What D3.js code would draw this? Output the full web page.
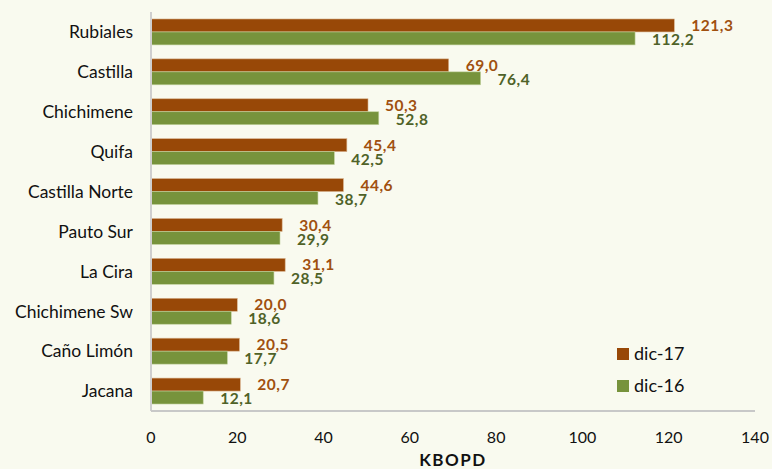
<!DOCTYPE html>
<html>
<head>
<meta charset="utf-8">
<script src="https://cdn.jsdelivr.net/npm/d3@7"></script>
<style>
  html, body { margin: 0; padding: 0; background: #f9faef; }
  svg { display: block; font-family: "Lato", "Open Sans", sans-serif; }
</style>
</head>
<body>
<main></main>
<script>
// campos y produccion (KBOPD)
const fields = ["Rubiales", "Castilla", "Chichimene", "Quifa", "Castilla Norte",
  "Pauto Sur", "La Cira", "Chichimene Sw", "Caño Limón", "Jacana"];
const dic17 = [121.3, 69.0, 50.3, 45.4, 44.6, 30.4, 31.1, 20.0, 20.5, 20.7];
const dic16 = [112.2, 76.4, 52.8, 42.5, 38.7, 29.9, 28.5, 18.6, 17.7, 12.1];
const seriesNames = ["dic-17", "dic-16"];
const xTicks = [0, 20, 40, 60, 80, 100, 120, 140];

const width = 772, height = 469;
const margin = {top: 12, right: 17, bottom: 58, left: 151};

const colors = {"dic-17": "#984807", "dic-16": "#77933c"};
const labelColors = {"dic-17": "#a0500f", "dic-16": "#4f6228"};

let rows = fields.map((f, i) => ({field: f, "dic-17": dic17[i], "dic-16": dic16[i]}));

let svg = d3.select("main").append("svg")
    .attr("width", width)
    .attr("height", height);

svg.append("rect")
  .attr("width", width).attr("height", height)
  .attr("fill", "#f9faef");

let x = d3.scaleLinear()
  .domain([0, 140])
  .range([margin.left, width - margin.right]);

let y = d3.scaleBand()
  .domain(fields)
  .range([margin.top, height - margin.bottom])
  .paddingInner(0.35)
  .paddingOuter(0.175);

let ySub = d3.scaleBand()
  .domain(seriesNames)
  .range([0, y.bandwidth()]);

const fmt = v => d3.format(".1f")(v).replace(".", ",");

// bars
let groups = svg.append("g")
  .selectAll("g")
  .data(rows)
  .join("g")
    .attr("transform", d => `translate(0,${y(d.field)})`);

groups.selectAll("rect")
  .data(d => seriesNames.map(s => ({key: s, value: d[s]})))
  .join("rect")
    .attr("x", x(0))
    .attr("y", d => ySub(d.key))
    .attr("width", d => x(d.value) - x(0))
    .attr("height", ySub.bandwidth())
    .attr("fill", d => colors[d.key])
    .attr("stroke", d => d.key == "dic-17" ? "#d9b48f" : "#c3d3a0")
    .attr("stroke-width", 0.6);

// value labels (brown nudged up, green down, as in the source)
groups.selectAll("text")
  .data(d => seriesNames.map(s => ({key: s, value: d[s]})))
  .join("text")
    .attr("x", d => x(d.value) + 17)
    .attr("y", d => ySub(d.key) + ySub.bandwidth() / 2 + (d.key == "dic-17" ? 0 : 1))
    .attr("dy", "0.36em")
    .attr("fill", d => labelColors[d.key])
    .attr("font-size", 15.5)
    .attr("font-weight", "bold")
    .attr("letter-spacing", 0.5)
    .text(d => fmt(d.value));

// axes
svg.append("line")
  .attr("x1", x(0)).attr("x2", x(0))
  .attr("y1", margin.top).attr("y2", height - margin.bottom)
  .attr("stroke", "#cfcfcf").attr("stroke-width", 2);

svg.append("line")
  .attr("x1", x(0)).attr("x2", x(140))
  .attr("y1", height - margin.bottom).attr("y2", height - margin.bottom)
  .attr("stroke", "#c8c8c8").attr("stroke-width", 2);

svg.append("g")
  .selectAll("text")
  .data(xTicks)
  .join("text")
    .attr("x", d => x(d))
    .attr("y", height - margin.bottom + 32)
    .attr("text-anchor", "middle")
    .attr("font-size", 16)
    .attr("fill", "#111")
    .text(d => d);

svg.append("g")
  .selectAll("text")
  .data(fields)
  .join("text")
    .attr("x", margin.left - 18)
    .attr("y", d => y(d) + y.bandwidth() / 2)
    .attr("dy", "0.36em")
    .attr("text-anchor", "end")
    .attr("font-size", 17.5)
    .attr("fill", "#111")
    .text(d => d);

svg.append("text")
  .attr("x", (x(0) + x(140)) / 2)
  .attr("y", height - 3)
  .attr("text-anchor", "middle")
  .attr("font-size", 17)
  .attr("font-weight", "bold")
  .attr("letter-spacing", 1.5)
  .attr("fill", "#111")
  .text("KBOPD");

// legend
let legend = svg.append("g")
  .selectAll("g")
  .data(seriesNames)
  .join("g")
    .attr("transform", (d, i) => `translate(617,${348 + i * 32})`);

legend.append("rect")
  .attr("width", 12).attr("height", 12)
  .attr("fill", d => colors[d]);

legend.append("text")
  .attr("x", 17).attr("y", 6)
  .attr("dy", "0.36em")
  .attr("font-size", 18)
  .attr("fill", "#111")
  .text(d => d);
</script>
</body>
</html>
